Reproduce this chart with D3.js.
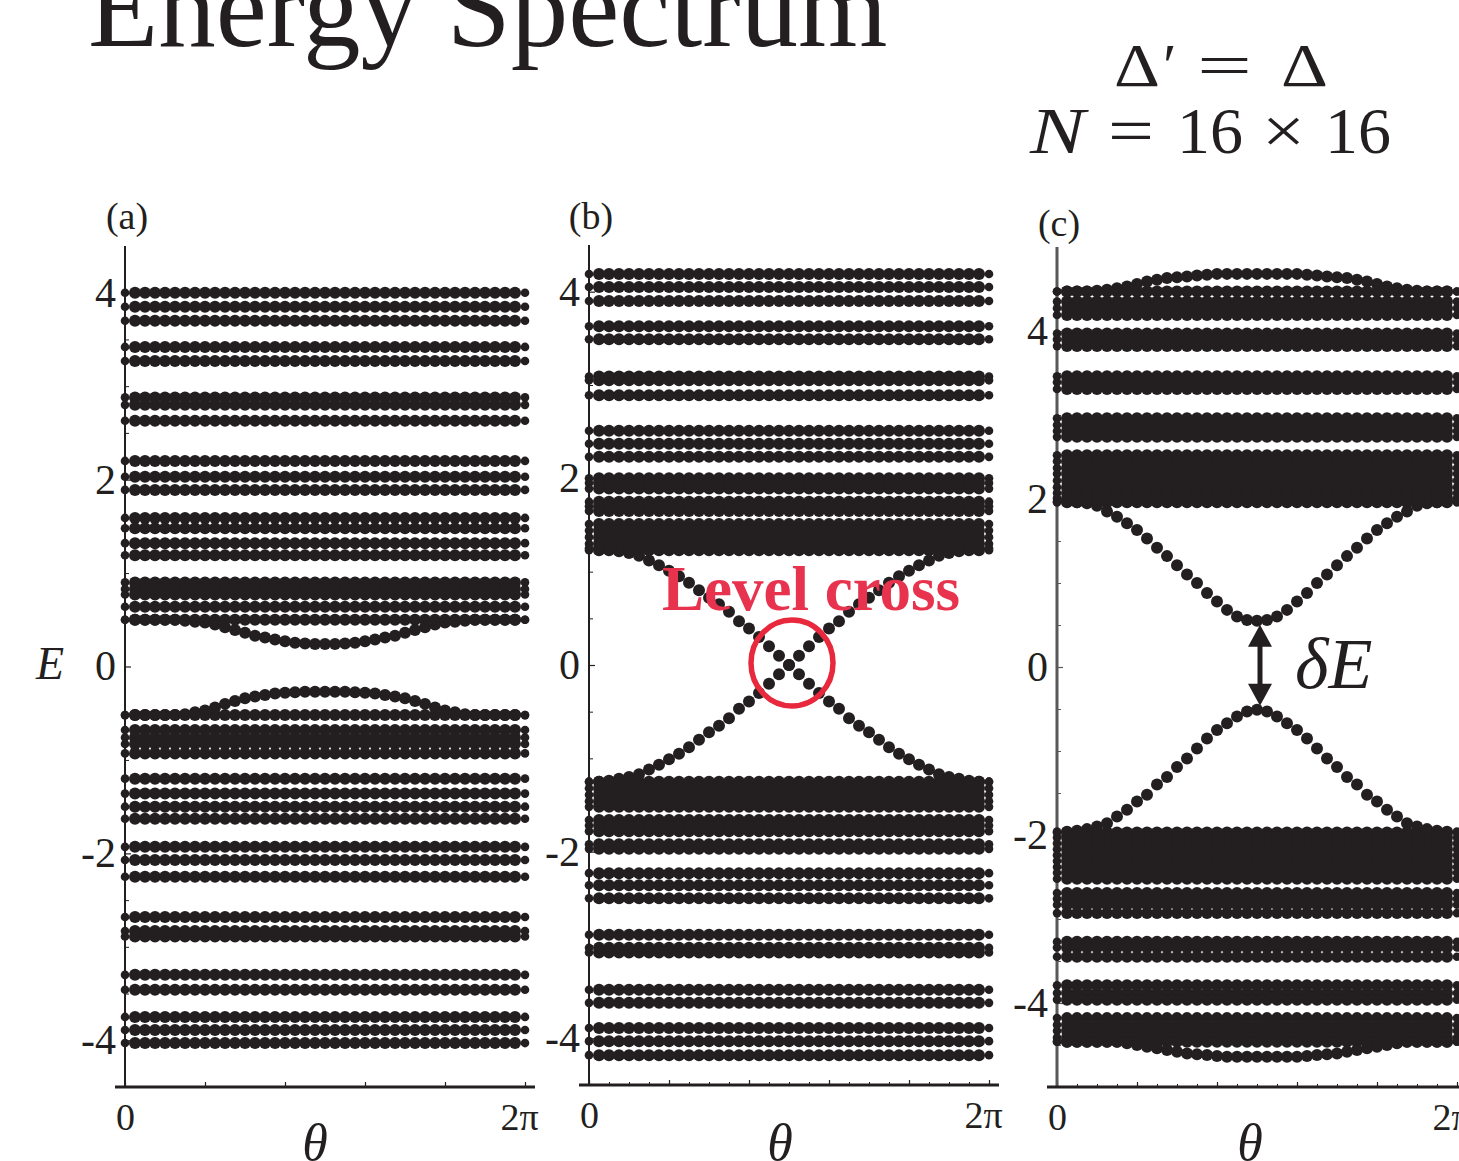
<!DOCTYPE html>
<html>
<head>
<meta charset="utf-8">
<script src="https://cdn.jsdelivr.net/npm/d3@7"></script>
<style>
  body { margin: 0; background: #fff; }
  svg text { font-family: "Liberation Serif", "Times New Roman", serif; fill: #231f20; }
</style>
</head>
<body>
<div id="chart"></div>
<script>
var svgWidth = 1459;
var svgHeight = 1161;
var TWO_PI = 2 * Math.PI;

// theta grid: 41 samples over [0, 2pi]
var nSteps = 40;
var thetaSamples = d3.range(nSteps + 1).map(i => i * TWO_PI / nSteps);

// flat bulk levels (energy)
var levelsA = [4.00, 3.85, 3.70, 3.42, 3.27, 2.88, 2.80, 2.63, 2.20, 2.03, 1.89,
  1.59, 1.48, 1.32, 1.19, 0.90, 0.83, 0.77, 0.64, 0.50,
  -0.52, -0.68, -0.76, -0.83, -0.93, -1.20, -1.36, -1.50, -1.63,
  -1.93, -2.07, -2.25, -2.68, -2.83, -2.89, -3.30, -3.46, -3.75, -3.89, -4.03];

var levelsB = [4.19, 4.05, 3.90, 3.63, 3.49, 3.09, 3.05, 2.89, 2.51, 2.37, 2.23,
  2.00, 1.95, 1.89, 1.75, 1.70, 1.65, 1.51, 1.44, 1.37, 1.30, 1.23,
  -1.25, -1.32, -1.39, -1.46, -1.52, -1.66, -1.72, -1.78, -1.92, -1.97,
  -2.23, -2.36, -2.50, -2.89, -3.03, -3.08, -3.48, -3.62, -3.89, -4.03, -4.18];

var levelsC = [4.47, 4.35, 4.27, 4.19, 3.97, 3.90, 3.82, 3.46, 3.39, 3.31,
  2.96, 2.88, 2.81, 2.74, 2.52, 2.45, 2.37, 2.30, 2.22, 2.14, 2.07, 2.01, 1.96,
  -1.97, -2.03, -2.10, -2.17, -2.24, -2.31, -2.38, -2.45, -2.52,
  -2.69, -2.76, -2.83, -2.93, -3.27, -3.34, -3.45, -3.79, -3.88, -3.96,
  -4.18, -4.26, -4.33, -4.41, -4.46];

// in-gap / edge states, one value per theta sample
var gapAUp = [0.50, 0.50, 0.50, 0.50, 0.50, 0.50, 0.49, 0.48, 0.47, 0.45, 0.42,
  0.39, 0.36, 0.33, 0.31, 0.29, 0.27, 0.255, 0.245, 0.24, 0.24,
  0.24, 0.245, 0.255, 0.27, 0.29, 0.31, 0.33, 0.36, 0.39, 0.42,
  0.45, 0.47, 0.48, 0.49, 0.50, 0.50, 0.50, 0.50, 0.50, 0.50];
var gapADn = [-0.52, -0.52, -0.52, -0.52, -0.52, -0.52, -0.51, -0.49, -0.47, -0.44, -0.40,
  -0.37, -0.34, -0.32, -0.305, -0.29, -0.28, -0.275, -0.27, -0.27, -0.27,
  -0.27, -0.27, -0.275, -0.28, -0.29, -0.305, -0.32, -0.34, -0.37, -0.40,
  -0.44, -0.47, -0.49, -0.51, -0.52, -0.52, -0.52, -0.52, -0.52, -0.52];

var crossB1 = [1.25, 1.25, 1.24, 1.22, 1.20, 1.17, 1.12, 1.07, 1.01, 0.95, 0.88,
  0.80, 0.72, 0.65, 0.57, 0.47, 0.39, 0.30, 0.20, 0.10, 0.00,
  -0.10, -0.20, -0.30, -0.39, -0.47, -0.57, -0.65, -0.72, -0.80, -0.88,
  -0.95, -1.01, -1.07, -1.12, -1.17, -1.20, -1.22, -1.24, -1.25, -1.25];
var crossB2 = [-1.25, -1.25, -1.24, -1.22, -1.20, -1.17, -1.12, -1.07, -1.01, -0.95, -0.88,
  -0.80, -0.72, -0.65, -0.57, -0.47, -0.39, -0.30, -0.20, -0.10, 0.00,
  0.10, 0.20, 0.30, 0.39, 0.47, 0.57, 0.65, 0.72, 0.80, 0.88,
  0.95, 1.01, 1.07, 1.12, 1.17, 1.20, 1.22, 1.24, 1.25, 1.25];

var gapCUp = [1.97, 1.97, 1.96, 1.95, 1.92, 1.85, 1.79, 1.71, 1.63, 1.53, 1.42,
  1.32, 1.21, 1.10, 1.00, 0.88, 0.78, 0.68, 0.60, 0.56, 0.55,
  0.56, 0.60, 0.68, 0.78, 0.88, 1.00, 1.10, 1.21, 1.32, 1.42,
  1.53, 1.63, 1.71, 1.79, 1.85, 1.92, 1.95, 1.96, 1.97, 1.97];
var gapCDn = [-1.96, -1.96, -1.95, -1.93, -1.90, -1.86, -1.78, -1.70, -1.60, -1.52, -1.40,
  -1.31, -1.19, -1.09, -0.97, -0.85, -0.75, -0.67, -0.59, -0.53, -0.51,
  -0.53, -0.59, -0.67, -0.75, -0.85, -0.97, -1.09, -1.19, -1.31, -1.40,
  -1.52, -1.60, -1.70, -1.78, -1.86, -1.90, -1.93, -1.95, -1.96, -1.96];
var edgeCTop = [4.47, 4.47, 4.47, 4.47, 4.48, 4.49, 4.51, 4.53, 4.56, 4.59, 4.61,
  4.63, 4.64, 4.65, 4.66, 4.67, 4.68, 4.68, 4.68, 4.68, 4.68,
  4.68, 4.68, 4.68, 4.68, 4.67, 4.66, 4.65, 4.64, 4.63, 4.61,
  4.59, 4.56, 4.53, 4.51, 4.49, 4.48, 4.47, 4.47, 4.47, 4.47];
var edgeCBot = [-4.46, -4.46, -4.46, -4.46, -4.46, -4.46, -4.46, -4.48, -4.50, -4.52, -4.54,
  -4.56, -4.58, -4.60, -4.61, -4.62, -4.63, -4.64, -4.64, -4.64, -4.64,
  -4.64, -4.64, -4.64, -4.64, -4.63, -4.62, -4.61, -4.60, -4.58, -4.56,
  -4.54, -4.52, -4.50, -4.48, -4.46, -4.46, -4.46, -4.46, -4.46, -4.46];

var yTickLabels = [-4, -2, 0, 2, 4];
var xTickLabels = ["0", "2\u03c0"];

var panels = [
  { label: "(a)", left: 125, right: 525, top: 246, bottom: 1087, eMax: 4.5,
    levels: levelsA, curves: [gapAUp, gapADn], axisColor: "#231f20", axisWidth: 2,
    minorX: false, labelY: 229, thetaX: 315 },
  { label: "(b)", left: 589, right: 989, top: 245, bottom: 1085, eMax: 4.5,
    levels: levelsB, curves: [crossB1, crossB2], axisColor: "#231f20", axisWidth: 2,
    minorX: true, labelY: 229, thetaX: 780 },
  { label: "(c)", left: 1057, right: 1457, top: 247, bottom: 1087, eMax: 5,
    levels: levelsC, curves: [gapCUp, gapCDn, edgeCTop, edgeCBot], axisColor: "#58595b", axisWidth: 3,
    minorX: true, labelY: 236, thetaX: 1250 }
];

var dotColor = "#231f20";
var dotR = 6;
var edgeDotR = 4.3;

var svg = d3.select("#chart")
  .append("svg")
  .attr("width", svgWidth)
  .attr("height", svgHeight);

panels.forEach(function(p) {
  p.x = d3.scaleLinear().domain([0, TWO_PI]).range([p.left, p.right]);
  p.y = d3.scaleLinear().domain([-p.eMax, p.eMax]).range([p.bottom, p.top]);
  var g = svg.append("g");

  // y ticks (minor every 0.5, labelled every 2)
  var minorY = d3.range(-p.eMax + 0.5, p.eMax, 0.5).filter(v => Math.abs(v % 2) > 1e-9);
  g.append("g")
    .attr("transform", `translate(${p.left},0)`)
    .call(d3.axisLeft(p.y).tickValues(minorY).tickSizeInner(-4).tickSizeOuter(0).tickFormat(""))
    .call(a => a.select(".domain").remove())
    .selectAll("line").attr("stroke", p.axisColor).attr("stroke-width", 1);

  g.append("g")
    .attr("transform", `translate(${p.left},0)`)
    .call(d3.axisLeft(p.y).tickValues(yTickLabels).tickSizeInner(-6).tickSizeOuter(0).tickPadding(9)
      .tickFormat(d => d < 0 ? "-" + Math.abs(d) : String(d)))
    .call(a => a.select(".domain").remove())
    .call(a => a.selectAll("line").attr("stroke", p.axisColor).attr("stroke-width", 1.2))
    .call(a => a.selectAll("text")
      .attr("font-family", "'Liberation Serif', serif")
      .attr("font-size", 42)
      .attr("fill", "#231f20"));

  // x ticks
  if (p.minorX) {
    g.append("g")
      .attr("transform", `translate(0,${p.bottom})`)
      .call(d3.axisBottom(p.x).tickValues(d3.range(21).map(i => i * TWO_PI / 20))
        .tickSizeInner(-3).tickSizeOuter(0).tickFormat(""))
      .call(a => a.select(".domain").remove())
      .selectAll("line").attr("stroke", "#231f20").attr("stroke-width", 1);
  }
  g.append("g")
    .attr("transform", `translate(0,${p.bottom})`)
    .call(d3.axisBottom(p.x).tickValues(d3.range(6).map(i => i * TWO_PI / 5))
      .tickSizeInner(-5).tickSizeOuter(0).tickFormat(""))
    .call(a => a.select(".domain").remove())
    .selectAll("line").attr("stroke", "#231f20").attr("stroke-width", 1.2);

  g.append("g")
    .attr("transform", `translate(0,${p.bottom})`)
    .call(d3.axisBottom(p.x).tickValues([0, TWO_PI]).tickSize(0).tickPadding(16)
      .tickFormat((d, i) => xTickLabels[i]))
    .call(a => a.select(".domain").remove())
    .call(a => a.selectAll("text")
      .attr("font-family", "'Liberation Serif', serif")
      .attr("font-size", 38)
      .attr("fill", "#231f20")
      .attr("dx", (d, i) => i === 1 ? -6 : 0));

  // axis lines
  g.append("line")
    .attr("x1", p.left).attr("x2", p.left)
    .attr("y1", p.top).attr("y2", p.bottom)
    .attr("stroke", p.axisColor).attr("stroke-width", p.axisWidth);
  g.append("line")
    .attr("x1", p.left - 10).attr("x2", p.right + 10)
    .attr("y1", p.bottom).attr("y2", p.bottom)
    .attr("stroke", "#231f20").attr("stroke-width", 3);

  // dots: flat levels then curves
  var pts = [];
  p.levels.forEach(function(e) {
    thetaSamples.forEach(function(t, i) { pts.push({ t: t, e: e, i: i }); });
  });
  p.curves.forEach(function(c) {
    c.forEach(function(e, i) { pts.push({ t: thetaSamples[i], e: e, i: i }); });
  });
  g.append("g").selectAll("circle")
    .data(pts)
    .enter()
    .append("circle")
    .attr("cx", d => p.x(d.t))
    .attr("cy", d => p.y(d.e))
    .attr("r", d => (d.i === 0 || d.i === nSteps) ? edgeDotR : dotR)
    .attr("fill", dotColor);

  // panel label and theta label
  svg.append("text")
    .attr("x", p.left + 2).attr("y", p.labelY)
    .attr("text-anchor", "middle")
    .attr("font-size", 38)
    .text(p.label);
  svg.append("text")
    .attr("x", p.thetaX).attr("y", 1160)
    .attr("text-anchor", "middle")
    .attr("font-size", 52)
    .attr("font-style", "italic")
    .text("\u03b8");
});

// title (cut by the top edge)
svg.append("text")
  .attr("x", 88).attr("y", 46)
  .attr("font-size", 115)
  .text("Energy Spectrum");

// parameters
var params = svg.append("g").attr("font-size", 62);
params.append("text").attr("x", 1114).attr("y", 86)
  .attr("textLength", 46).attr("lengthAdjust", "spacingAndGlyphs").text("\u0394");
params.append("text").attr("x", 1163).attr("y", 86).text("\u2032");
params.append("text").attr("x", 1197).attr("y", 86)
  .attr("textLength", 55).attr("lengthAdjust", "spacingAndGlyphs").text("=");
params.append("text").attr("x", 1281).attr("y", 86)
  .attr("textLength", 47).attr("lengthAdjust", "spacingAndGlyphs").text("\u0394");
var params2 = svg.append("g").attr("font-size", 66);
params2.append("text").attr("x", 1030).attr("y", 153).attr("font-style", "italic")
  .attr("textLength", 55).attr("lengthAdjust", "spacingAndGlyphs").text("N");
params2.append("text").attr("x", 1108).attr("y", 153)
  .attr("textLength", 46).attr("lengthAdjust", "spacingAndGlyphs").text("=");
params2.append("text").attr("x", 1177).attr("y", 153).text("16");
params2.append("text").attr("x", 1262).attr("y", 153)
  .attr("textLength", 43).attr("lengthAdjust", "spacingAndGlyphs").text("\u00d7");
params2.append("text").attr("x", 1325).attr("y", 153).text("16");

// E axis label
svg.append("text")
  .attr("x", 36).attr("y", 679)
  .attr("font-size", 46)
  .attr("font-style", "italic")
  .text("E");

// (b) level-cross annotation
var pb = panels[1];
svg.append("text")
  .attr("x", 662).attr("y", 610)
  .attr("font-size", 63)
  .attr("font-weight", "bold")
  .style("fill", "#e8334f")
  .text("Level cross");
svg.append("ellipse")
  .attr("cx", pb.x(Math.PI) + 3).attr("cy", pb.y(0) - 2)
  .attr("rx", 41).attr("ry", 43)
  .attr("fill", "none")
  .attr("stroke", "#e8283c")
  .attr("stroke-width", 5.5);

// (c) gap arrow
var pc = panels[2];
var ax = pc.x(Math.PI) + 3;
var yTop = pc.y(gapCUp[20]) + 4;
var yBot = pc.y(gapCDn[20]) - 4;
var headL = 22, headW = 12;
svg.append("line")
  .attr("x1", ax).attr("x2", ax)
  .attr("y1", yTop + headL - 2).attr("y2", yBot - headL + 2)
  .attr("stroke", "#231f20").attr("stroke-width", 5);
svg.append("path")
  .attr("d", `M${ax},${yTop} L${ax - headW},${yTop + headL} L${ax + headW},${yTop + headL} Z`)
  .attr("fill", "#231f20");
svg.append("path")
  .attr("d", `M${ax},${yBot} L${ax - headW},${yBot - headL} L${ax + headW},${yBot - headL} Z`)
  .attr("fill", "#231f20");
svg.append("text")
  .attr("x", 1295).attr("y", 688)
  .attr("font-size", 72)
  .attr("font-style", "italic")
  .text("\u03b4E");
</script>
</body>
</html>
